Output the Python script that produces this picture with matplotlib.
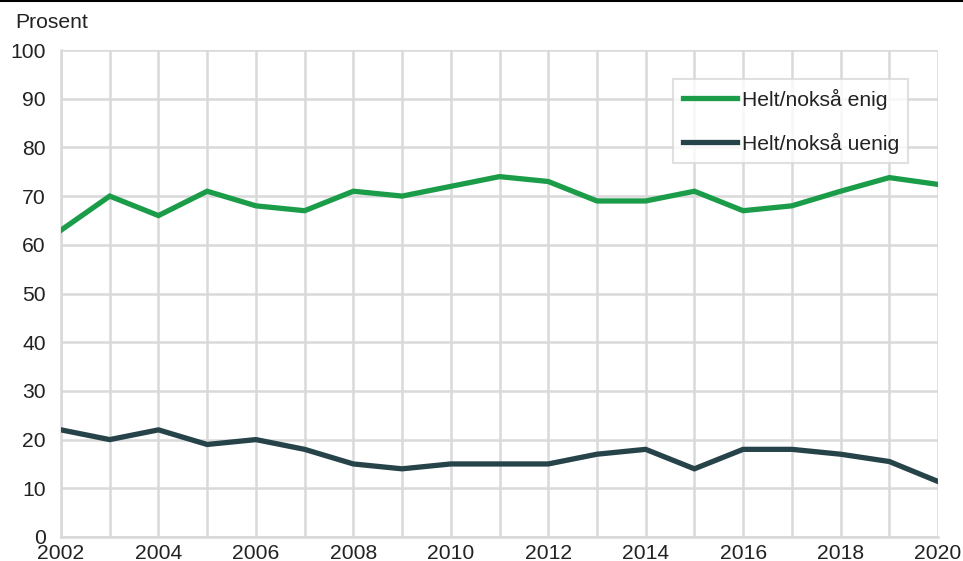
import matplotlib
matplotlib.use('Agg')
import matplotlib.pyplot as plt
from matplotlib.lines import Line2D

plt.rcParams['font.family'] = ['Liberation Sans', 'DejaVu Sans']

years = list(range(2002, 2021))
enig = [63, 70, 66, 71, 68, 67, 71, 70, 72, 74, 73, 69, 69, 71, 67, 68, 71, 73.8, 72.4]
uenig = [22, 20, 22, 19, 20, 18, 15, 14, 15, 15, 15, 17, 18, 14, 18, 18, 17, 15.5, 11.4]
labels = ['Helt/nokså enig', 'Helt/nokså uenig']
colors = ['#1a9c48', '#26434a']
GRID = '#d9d9d9'
FS = 15.2

fig = plt.figure(figsize=(9.63, 5.61), dpi=100)
ax = fig.add_axes([61 / 963, 1 - 537 / 561, 877 / 963, 487 / 561])

ax.plot(years, enig, color=colors[0], lw=3.8, solid_joinstyle='miter', zorder=3)
ax.plot(years, uenig, color=colors[1], lw=3.8, solid_joinstyle='miter', zorder=3)

ax.set_xlim(2002, 2020)
ax.set_ylim(0, 100)
ax.set_xticks(years, minor=True)
ax.set_xticks(range(2002, 2021, 2))
ax.set_yticks(range(0, 101, 10))
ax.grid(True, which='both', axis='x', color=GRID, lw=1.8)
ax.grid(True, which='major', axis='y', color=GRID, lw=1.8)
ax.set_axisbelow(True)
for s in ['top', 'right']:
    ax.spines[s].set_visible(False)
for s in ['left', 'bottom']:
    ax.spines[s].set_color(GRID)
    ax.spines[s].set_linewidth(1.8)
ax.tick_params(which='both', length=0, labelsize=FS, colors='#222222')
ax.tick_params(axis='x', pad=5)
ax.tick_params(axis='y', pad=11)

fig.text(15 / 963, 1 - 23 / 561, 'Prosent', fontsize=FS, color='#222222', va='center')
fig.add_artist(Line2D([0, 1], [1 - 1 / 561, 1 - 1 / 561], color='black', lw=1.5))

handles = [Line2D([], [], color=c, lw=3.8) for c in colors]
leg = ax.legend(handles, labels, loc='upper left', bbox_to_anchor=(673 / 963, 1 - 79 / 561),
                bbox_transform=fig.transFigure, frameon=True, fancybox=False,
                fontsize=FS, handlelength=2.6, handletextpad=0.2,
                labelspacing=1.1, borderpad=0.45, borderaxespad=0)
leg.get_frame().set_edgecolor(GRID)
leg.get_frame().set_linewidth(1.5)
for t in leg.get_texts():
    t.set_color('#222222')

fig.savefig('out.png', dpi=100)
